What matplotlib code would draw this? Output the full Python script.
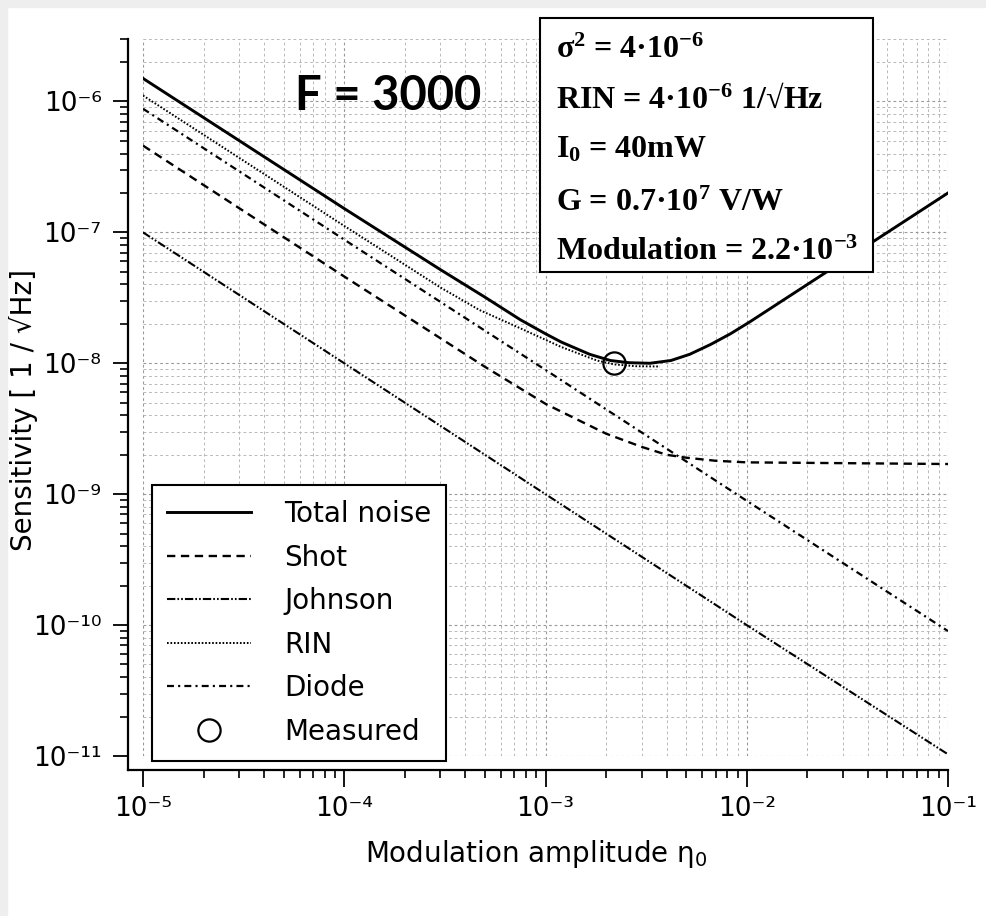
import matplotlib
matplotlib.use('Agg')
import matplotlib.pyplot as plt
from matplotlib.patches import Rectangle
from matplotlib.ticker import FuncFormatter
import numpy as np

plt.rcParams['font.family'] = 'DejaVu Sans'
plt.rcParams['mathtext.default'] = 'regular'
plt.rcParams['lines.scale_dashes'] = False

# values
total_x = [1e-5, 1e-4, 3e-4, 5e-4, 7.5e-4, 1e-3, 1.2e-3, 1.66e-3, 2.1e-3, 2.6e-3, 3.3e-3, 4.2e-3, 5.2e-3,
           6.6e-3, 8.3e-3, 1.04e-2, 1.4e-2, 2e-2, 3e-2, 5e-2, 1e-1]
total_y = [1.5e-6, 1.52e-7, 5.2e-8, 3.2e-8, 2.15e-8, 1.68e-8, 1.45e-8, 1.17e-8, 1.05e-8, 1.01e-8, 1.0e-8,
           1.05e-8, 1.17e-8, 1.39e-8, 1.68e-8, 2.08e-8, 2.8e-8, 4.0e-8, 6.0e-8, 1.0e-7, 2.0e-7]

shot_x = [1e-5, 1e-4, 5e-4, 1e-3, 1.5e-3, 2e-3, 3e-3, 4e-3, 5e-3, 7e-3, 1e-2, 1e-1]
shot_y = [4.6e-7, 4.6e-8, 9.4e-9, 4.9e-9, 3.6e-9, 2.9e-9, 2.3e-9, 2.0e-9, 1.9e-9, 1.8e-9, 1.75e-9, 1.7e-9]

johnson_x = [1e-5, 1e-4, 1e-3, 1e-2, 1e-1]
johnson_y = [1.0e-7, 1.0e-8, 1.0e-9, 1.0e-10, 1.03e-11]

rin_x = [1e-5, 1e-4, 3e-4, 4.7e-4, 7.5e-4, 1.2e-3, 1.8e-3, 2.2e-3, 2.8e-3, 3.7e-3]
rin_y = [1.11e-6, 1.12e-7, 3.8e-8, 2.55e-8, 1.85e-8, 1.33e-8, 1.05e-8, 9.8e-9, 9.5e-9, 9.45e-9]

diode_x = [1e-5, 1e-4, 1e-3, 1e-2, 1e-1]
diode_y = [8.8e-7, 8.8e-8, 8.9e-9, 8.9e-10, 9.0e-11]

measured_x = [2.2e-3]
measured_y = [1.0e-8]

params = ['σ$^{2}$ = 4·10$^{-6}$',
          'RIN = 4·10$^{-6}$ 1/√Hz',
          'I$_{0}$ = 40mW',
          'G = 0.7·10$^{7}$ V/W',
          'Modulation = 2.2·10$^{-3}$']

SUP = str.maketrans('-0123456789', '⁻⁰¹²³⁴⁵⁶⁷⁸⁹')


def pow_label(v, pos):
    return '10' + str(int(round(np.log10(v)))).translate(SUP)


W, H = 986, 916
fig = plt.figure(figsize=(W / 100, H / 100), dpi=100, facecolor='white')
fig.add_artist(Rectangle((0, 0), 7 / W, 1, transform=fig.transFigure, color='#eeeeee', zorder=-5))
fig.add_artist(Rectangle((0, 1 - 7 / H), 1, 7 / H, transform=fig.transFigure, color='#eeeeee', zorder=-5))

ax = fig.add_axes([143 / W, (H - 756) / H, 805 / W, 717 / H])
ax.set_xscale('log')
ax.set_yscale('log')
ax.set_xlim(1e-5, 1e-1)
ax.set_ylim(1e-11, 3e-6)

ax.grid(True, which='major', color='0.6', linestyle=(0, (2, 2)), linewidth=0.8)
ax.grid(True, which='minor', color='0.72', linestyle=(0, (2, 2)), linewidth=0.7)
ax.set_axisbelow(True)

ax.plot(total_x, total_y, color='k', lw=2.1, ls='-', label='Total noise')
ax.plot(shot_x, shot_y, color='k', lw=1.7, ls=(0, (6, 4)), label='Shot')
ax.plot(johnson_x, johnson_y, color='k', lw=1.5, ls=(0, (6, 1.5, 1.2, 1.5, 1.2, 1.5)), label='Johnson')
ax.plot(rin_x, rin_y, color='k', lw=1.4, ls=(0, (1.2, 1.3)), label='RIN')
ax.plot(diode_x, diode_y, color='k', lw=1.6, ls=(0, (5, 3, 1.5, 3)), label='Diode')
ax.plot(measured_x, measured_y, ls='none', marker='o', ms=16, mfc='none', mec='k', mew=1.6, label='Measured')

for side in ['top', 'right']:
    ax.spines[side].set_visible(False)
ax.spines['left'].set_position(('outward', 10.8))
ax.spines['bottom'].set_position(('outward', 10.1))
ax.spines['left'].set_linewidth(1.6)
ax.spines['bottom'].set_linewidth(1.6)
ax.spines['left'].set_bounds(7.8e-12, 3e-6)
ax.spines['bottom'].set_bounds(8.42e-6, 1e-1)

ax.xaxis.set_major_formatter(FuncFormatter(pow_label))
ax.yaxis.set_major_formatter(FuncFormatter(pow_label))
ax.tick_params(which='major', direction='out', width=1.3, labelsize=19)
ax.tick_params(axis='x', which='major', length=12.5, pad=6)
ax.tick_params(axis='y', which='major', length=11, pad=8)
ax.tick_params(which='minor', direction='out', length=6, width=1.2)

ax.set_xlabel('Modulation amplitude η$_{0}$', fontsize=20)
ax.set_ylabel('Sensitivity [ 1 / √Hz]', fontsize=20)
ax.xaxis.set_label_coords(0.489, -0.115)
ax.yaxis.set_label_coords(-0.131, 0.483)

leg = ax.legend(loc='lower left', bbox_to_anchor=(152 / W, (H - 761) / H), bbox_transform=fig.transFigure,
                borderaxespad=0, fontsize=20, fancybox=False, framealpha=1, edgecolor='k',
                handlelength=3.0, handletextpad=1.2, borderpad=0.55, labelspacing=0.56, numpoints=1)
leg.get_frame().set_linewidth(1.5)

fig.text(295 / W, (H - 110) / H, 'F = 3000', fontsize=34, fontweight='bold', family='Lato',
         ha='left', va='baseline')

fig.add_artist(Rectangle((540 / W, (H - 272) / H), 333 / W, 254 / H, transform=fig.transFigure,
                         facecolor='white', edgecolor='k', lw=1.5, zorder=10))
baselines = [58, 108, 158, 211, 260]
for txt, yb in zip(params, baselines):
    fig.text(556 / W, (H - yb) / H, txt, fontsize=23, fontweight='bold', family='Liberation Serif',
             ha='left', va='baseline', zorder=11)

fig.savefig('out.png', dpi=100)
